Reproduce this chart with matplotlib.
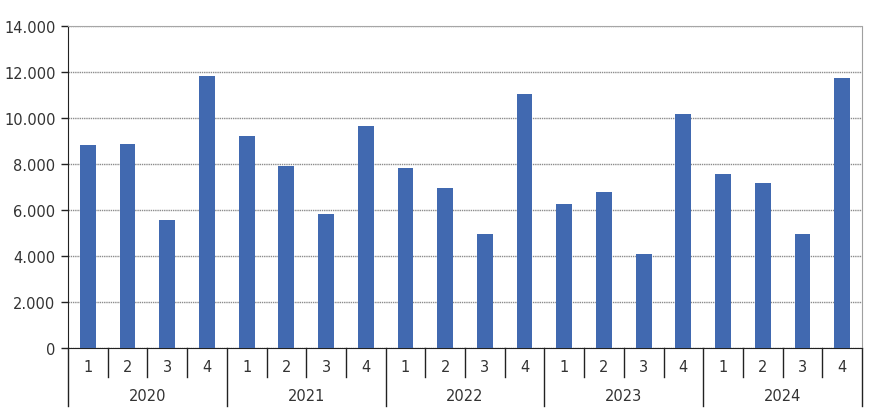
import matplotlib.pyplot as plt
from matplotlib.ticker import FuncFormatter
from matplotlib.transforms import blended_transform_factory

plt.rcParams['font.family'] = ['DejaVu Sans']

# Quarterly values
years = ['2020', '2021', '2022', '2023', '2024']
quarters = ['1', '2', '3', '4']
values = [8830, 8870, 5570, 11830,
          9220, 7910, 5830, 9650,
          7830, 6960, 4960, 11040,
          6260, 6780, 4090, 10170,
          7570, 7170, 4960, 11740]

fig = plt.figure(figsize=(8.86, 4.14), dpi=100)
ax = fig.add_axes([68 / 886, 65 / 414, 794 / 886, 322 / 414])

x = list(range(len(values)))
ax.bar(x, values, width=0.4, color='#4169b0', zorder=3)

ax.set_xlim(-0.5, len(values) - 0.5)
ax.set_ylim(0, 14000)
ax.set_yticks(range(0, 14001, 2000))
ax.yaxis.set_major_formatter(FuncFormatter(lambda v, p: f'{int(v):,}'.replace(',', '.')))
ax.tick_params(axis='y', length=5, width=1, color='#222222', labelsize=10.5,
               labelcolor='#333333', pad=4)
ax.set_xticks([])

# Grid lines
ax.grid(axis='y', color='#8c8c8c', linestyle=(0, (1, 0.6)), linewidth=1, zorder=0)

# Spines
ax.spines['left'].set_color('#222222')
ax.spines['bottom'].set_color('#222222')
ax.spines['top'].set_color('#a6a6a6')
ax.spines['right'].set_color('#a0a0a0')
ax.spines['right'].set_linestyle((0, (1, 1)))

# Multi-level category axis
trans = blended_transform_factory(ax.transData, ax.transAxes)
q_depth = -29 / 322
y_depth = -58 / 322
for i in range(len(values) + 1):
    xb = i - 0.5
    depth = y_depth if i % 4 == 0 else q_depth
    ax.plot([xb, xb], [0, depth], transform=trans, color='#222222', lw=1, clip_on=False)
for i in x:
    ax.text(i, -19 / 322, quarters[i % 4], transform=trans, ha='center', va='center',
            fontsize=10.5, color='#333333')
for j, yr in enumerate(years):
    ax.text(j * 4 + 1.5, -48 / 322, yr, transform=trans, ha='center', va='center',
            fontsize=10.5, color='#333333')

fig.savefig('out.png', dpi=100)
